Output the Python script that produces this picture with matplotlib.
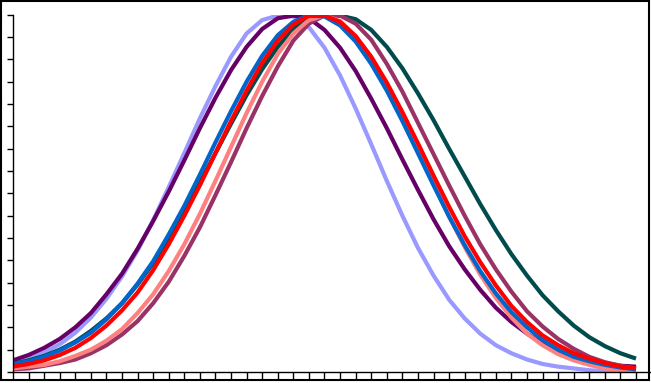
import matplotlib
matplotlib.use('Agg')
import matplotlib.pyplot as plt
from matplotlib.patches import Rectangle

# category positions along the bottom axis (41 ticks)
points = list(range(41))

# curve values
lavender = [0.009, 0.014, 0.022, 0.031, 0.044, 0.061, 0.082, 0.107, 0.136, 0.170,
            0.207, 0.245, 0.284, 0.320, 0.353, 0.379, 0.394, 0.399, 0.398, 0.386,
            0.363, 0.332, 0.295, 0.255, 0.214, 0.175, 0.139, 0.108, 0.081, 0.060,
            0.043, 0.030, 0.021, 0.014, 0.009, 0.006, 0.004, 0.002, 0.001, 0.001,
            0.001]
purple = [0.013, 0.019, 0.027, 0.037, 0.050, 0.066, 0.087, 0.110, 0.138, 0.169,
          0.202, 0.237, 0.273, 0.307, 0.338, 0.364, 0.384, 0.396, 0.399, 0.396,
          0.383, 0.363, 0.337, 0.306, 0.273, 0.238, 0.204, 0.171, 0.141, 0.115,
          0.092, 0.072, 0.056, 0.043, 0.032, 0.024, 0.018, 0.014, 0.010, 0.007,
          0.006]
teal = [0.009, 0.013, 0.018, 0.025, 0.034, 0.046, 0.060, 0.077, 0.098, 0.122,
        0.150, 0.180, 0.212, 0.245, 0.278, 0.310, 0.339, 0.364, 0.384, 0.396,
        0.399, 0.399, 0.395, 0.383, 0.364, 0.340, 0.312, 0.282, 0.250, 0.219,
        0.188, 0.159, 0.132, 0.108, 0.086, 0.068, 0.052, 0.039, 0.029, 0.021,
        0.015]
mauve = [0.003, 0.004, 0.007, 0.010, 0.014, 0.021, 0.030, 0.042, 0.057, 0.077,
         0.101, 0.130, 0.162, 0.198, 0.235, 0.273, 0.309, 0.342, 0.371, 0.390,
         0.399, 0.399, 0.390, 0.372, 0.345, 0.314, 0.279, 0.244, 0.209, 0.175,
         0.143, 0.115, 0.090, 0.068, 0.051, 0.037, 0.026, 0.017, 0.011, 0.007,
         0.004]
salmon = [0.004, 0.006, 0.008, 0.012, 0.018, 0.025, 0.035, 0.048, 0.066, 0.087,
          0.113, 0.143, 0.177, 0.214, 0.252, 0.290, 0.325, 0.356, 0.379, 0.394,
          0.399, 0.393, 0.376, 0.351, 0.321, 0.286, 0.249, 0.211, 0.174, 0.140,
          0.109, 0.083, 0.061, 0.043, 0.030, 0.020, 0.013, 0.008, 0.004, 0.002,
          0.001]
blue = [0.009, 0.012, 0.017, 0.024, 0.033, 0.044, 0.059, 0.077, 0.099, 0.124,
        0.154, 0.186, 0.221, 0.257, 0.292, 0.325, 0.354, 0.377, 0.392, 0.399,
        0.398, 0.388, 0.370, 0.345, 0.315, 0.281, 0.245, 0.209, 0.174, 0.142,
        0.113, 0.088, 0.067, 0.050, 0.036, 0.025, 0.017, 0.012, 0.008, 0.005,
        0.003]
red = [0.006, 0.009, 0.013, 0.019, 0.027, 0.038, 0.052, 0.069, 0.089, 0.114,
       0.143, 0.175, 0.209, 0.245, 0.281, 0.315, 0.346, 0.371, 0.389, 0.399,
       0.399, 0.392, 0.376, 0.353, 0.324, 0.291, 0.256, 0.220, 0.185, 0.152,
       0.123, 0.097, 0.074, 0.056, 0.041, 0.030, 0.021, 0.015, 0.010, 0.006,
       0.004]

series = [
    (lavender, '#9999ff'),
    (purple, '#660066'),
    (teal, '#004c4c'),
    (mauve, '#993366'),
    (salmon, '#ff8080'),
    (blue, '#0066cc'),
    (red, '#ff0000'),
]

fig = plt.figure(figsize=(6.51, 3.83), dpi=100)
ax = fig.add_axes([13 / 651, 11 / 383, 637 / 651, 357.3 / 383])

for values, color in series:
    ax.plot(points, values, color=color, lw=3, solid_capstyle='butt')

ax.set_xlim(0, 40.9)
ax.set_ylim(0, 0.4)
ax.set_xticks(points)
ax.set_yticks([i * 0.025 for i in range(17)])
ax.set_xticklabels([])
ax.set_yticklabels([])
ax.tick_params(axis='x', direction='out', length=5, width=1, color='black')
ax.tick_params(axis='y', direction='out', length=4.3, width=1, color='black')
for side in ('top', 'right'):
    ax.spines[side].set_visible(False)
for side in ('left', 'bottom'):
    ax.spines[side].set_linewidth(1)
    ax.spines[side].set_color('black')

# black frame round the whole picture
fig.patches.append(Rectangle((0.5 / 651, 3 / 383), 648.5 / 651, 379.5 / 383,
                             transform=fig.transFigure, fill=False,
                             edgecolor='black', lw=1.5))

fig.savefig('out.png')
